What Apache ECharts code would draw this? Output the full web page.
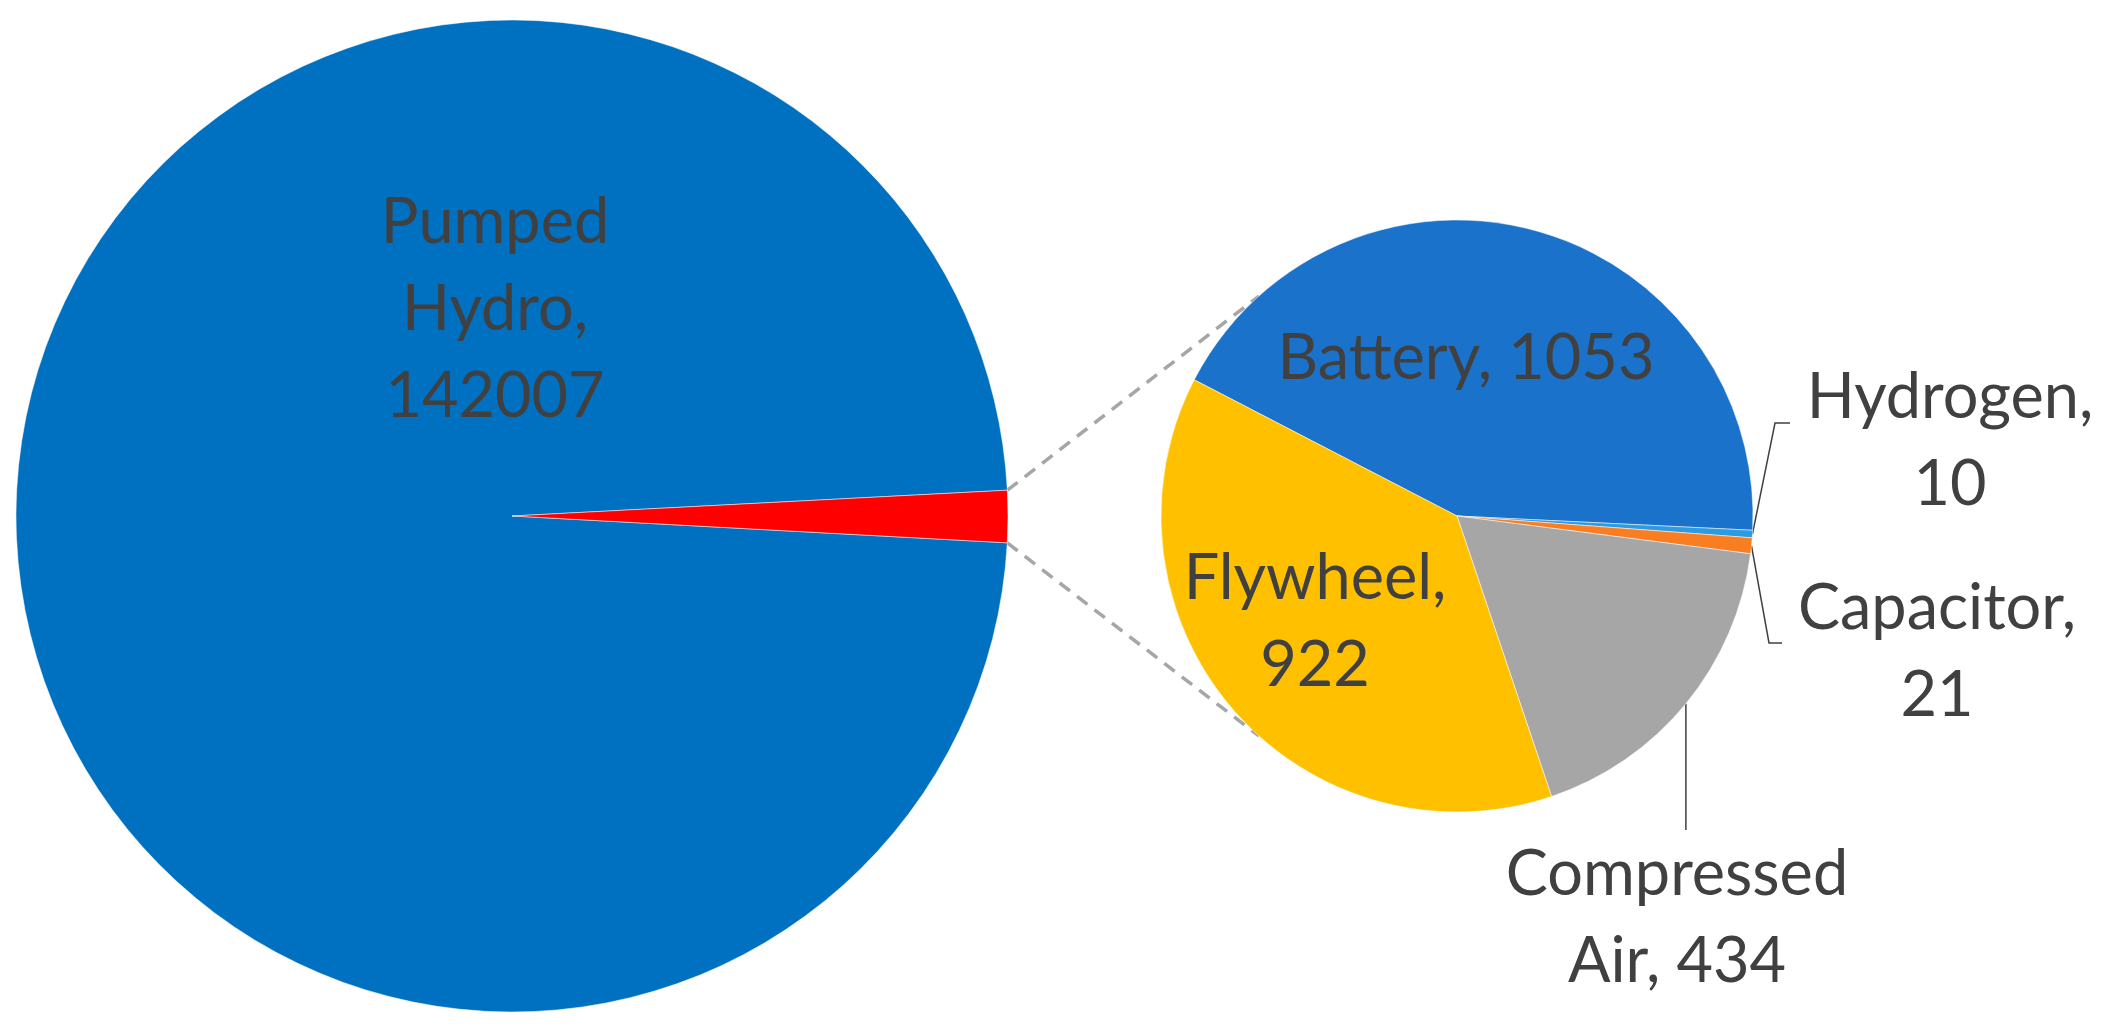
<!DOCTYPE html>
<html>
<head>
<meta charset="utf-8">
<script src="https://cdn.jsdelivr.net/npm/echarts@6/dist/echarts.min.js"></script>
<style>
  html, body { margin: 0; padding: 0; background: #fff; }
  #chart { width: 2112px; height: 1029px; }
</style>
</head>
<body>
<div id="chart"></div>
<script>
  // main pie: pumped hydro vs. everything else
  const mainNames = ['Pumped Hydro', 'Other']
  const detailNames = ['Battery', 'Hydrogen', 'Capacitor', 'Compressed Air', 'Flywheel']
  const detailValues = [1053, 10, 21, 434, 922]
  const pumpedValue = 142007
  const otherValue = detailValues.reduce((a, b) => a + b, 0)
  const mainValues = [pumpedValue, otherValue]

  const mainColors = ['#0070C0', '#FF0000']
  const detailColors = ['#1A72CA', '#2E9AE0', '#F97E22', '#A6A6A6', '#FFC000']

  // layout (pixels)
  const BIG = { cx: 512, cy: 516, r: 496 }
  const SMALL = { cx: 1457, cy: 516, r: 296 }
  const bigStart = 356.9
  const smallStart = 152.6
  const connectorAngle = 132

  // label anchors, relative to their pie centre
  const labelPos = {
    'Pumped Hydro': [-17, -206],
    'Battery': [9, -157],
    'Flywheel': [-142, 106],
    'Hydrogen': [493, -75],
    'Capacitor': [480, 136],
    'Compressed Air': [220, 402]
  }
  // elbow points of the leader lines, relative to small pie centre
  const leaderBend = {
    'Hydrogen': [[318, -93], [333, -93]],
    'Capacitor': [[312, 127], [325, 127]],
    'Compressed Air': [[null, 314]]
  }
  // [break inside name, break before value]
  const wrap = {
    'Pumped Hydro': [true, true],
    'Battery': [false, false],
    'Flywheel': [false, true],
    'Hydrogen': [false, true],
    'Capacitor': [false, true],
    'Compressed Air': [true, false]
  }
  const outside = ['Hydrogen', 'Capacitor', 'Compressed Air']

  const textStyle = {
    fontFamily: 'Lato',
    fontSize: 63,
    lineHeight: 87,
    color: '#404040'
  }

  function fmt(p) {
    const w = wrap[p.name]
    if (!w) return ''
    const name = w[0] ? p.name.replace(' ', '\n') : p.name
    return name + (w[1] ? ',\n' : ', ') + p.value
  }

  function makeLayout(pie, names) {
    return function (params) {
      const name = names[params.dataIndex]
      const pos = labelPos[name]
      if (!pos) return {}
      const res = {
        x: pie.cx + pos[0],
        y: pie.cy + pos[1],
        align: 'center',
        verticalAlign: 'middle'
      }
      const bends = leaderBend[name]
      if (bends && params.labelLinePoints && params.labelLinePoints.length) {
        const start = params.labelLinePoints[0]
        const pts = [[start[0], start[1]]]
        bends.forEach(b => {
          pts.push([b[0] == null ? start[0] : pie.cx + b[0], pie.cy + b[1]])
        })
        res.labelLinePoints = pts
      }
      return res
    }
  }

  const mainData = mainNames.map((n, i) => ({
    name: n,
    value: mainValues[i],
    itemStyle: { color: mainColors[i] },
    label: { show: i === 0, position: 'inside' },
    labelLine: { show: false }
  }))

  const detailData = detailNames.map((n, i) => {
    const out = outside.indexOf(n) >= 0
    return {
      name: n,
      value: detailValues[i],
      itemStyle: { color: detailColors[i] },
      label: { show: true, position: out ? 'outside' : 'inside' },
      labelLine: { show: out }
    }
  })

  // dashed connectors from the red wedge corners to the small pie
  const rad = Math.PI / 180
  const pumpedAngle = pumpedValue / (pumpedValue + otherValue) * 360
  const topA = (bigStart - pumpedAngle) * rad
  const botA = (bigStart - 360) * rad
  const connectors = [
    [topA, connectorAngle * rad],
    [botA, -connectorAngle * rad]
  ].map(a => ({
    type: 'line',
    z: 0,
    shape: {
      x1: BIG.cx + BIG.r * Math.cos(a[0]),
      y1: BIG.cy - BIG.r * Math.sin(a[0]),
      x2: SMALL.cx + SMALL.r * Math.cos(a[1]),
      y2: SMALL.cy - SMALL.r * Math.sin(a[1])
    },
    style: { stroke: '#A6A6A6', lineWidth: 3.5, lineDash: [13, 9] }
  }))

  const chart = echarts.init(document.getElementById('chart'))
  const option = {
    backgroundColor: '#fff',
    animation: false,
    graphic: connectors,
    series: [
      {
        type: 'pie',
        center: [BIG.cx, BIG.cy],
        radius: BIG.r,
        startAngle: bigStart,
        clockwise: true,
        avoidLabelOverlap: false,
        itemStyle: { borderColor: '#fff', borderWidth: 0.5 },
        label: Object.assign({ formatter: fmt }, textStyle),
        labelLayout: makeLayout(BIG, mainNames),
        data: mainData
      },
      {
        type: 'pie',
        center: [SMALL.cx, SMALL.cy],
        radius: SMALL.r,
        startAngle: smallStart,
        clockwise: true,
        avoidLabelOverlap: false,
        itemStyle: { borderColor: '#fff', borderWidth: 0.5 },
        label: Object.assign({ formatter: fmt }, textStyle),
        labelLine: {
          lineStyle: { color: '#404040', width: 1.5 }
        },
        labelLayout: makeLayout(SMALL, detailNames),
        data: detailData
      }
    ]
  }
  chart.setOption(option)
</script>
</body>
</html>
